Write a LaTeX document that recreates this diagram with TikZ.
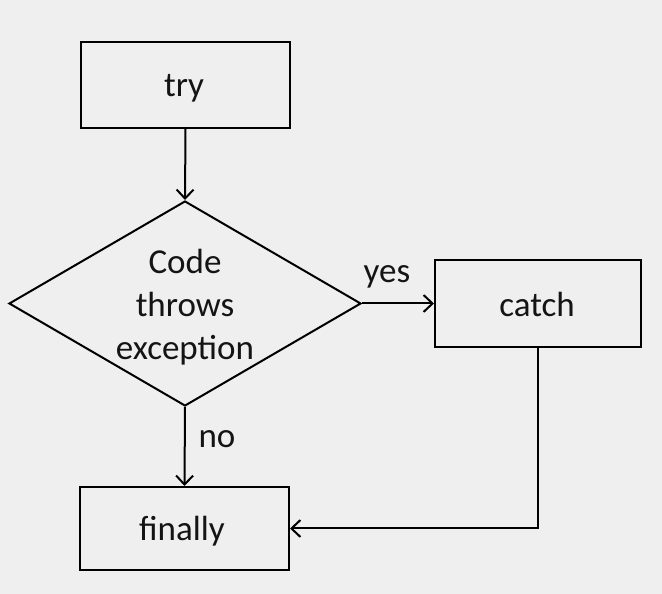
\documentclass[tikz,border=0pt]{standalone}
\usepackage{fontspec}
\setmainfont{Carlito}
\usetikzlibrary{shapes.geometric,arrows.meta}
\definecolor{bgc}{HTML}{EFEFEF}
\definecolor{txt}{HTML}{141414}
\begin{document}
\begin{tikzpicture}[x=1pt,y=1pt,
  box/.style={draw=black,line width=2pt,minimum width=#1,inner sep=0pt},
  lbl/.style={text=txt,font=\fontsize{35}{43}\selectfont,inner sep=0pt},
  conn/.style={line width=2pt,-{Straight Barb[length=9pt,width=17pt,line width=2pt]}}]
\fill[bgc] (0,0) rectangle (662,594);
\useasboundingbox (0,0) rectangle (662,594);
\node[box=209pt,minimum height=86pt] (try) at (185.5,509) {};
\node[lbl] (trytext) at (184,505.5) {try};
\node[draw=black,line width=2pt,shape=diamond,minimum width=352pt,minimum height=205pt,inner sep=0pt] (d) at (185,290.5) {};
\node[lbl,align=center] (dtext) at (185,287) {Code\\throws\\exception};
\node[box=206pt,minimum height=87pt] (catch) at (538,290.5) {};
\node[lbl] (catchtext) at (537,290) {catch};
\node[box=209pt,minimum height=83pt] (fin) at (184.5,65.5) {};
\node[lbl] (fintext) at (182,63) {finally};
\node[lbl] (yes) at (387,317) {yes};
\node[lbl] (no) at (217,155) {no};
\coordinate (corner) at (catch.south |- fin.east);
\draw[conn] (try.south) -- (d.north);
\draw[conn] (d.east) -- (catch.west);
\draw[conn] (d.south) -- (fin.north);
\draw[conn] (catch.south) -- (corner) -- (fin.east);
\end{tikzpicture}
\end{document}
